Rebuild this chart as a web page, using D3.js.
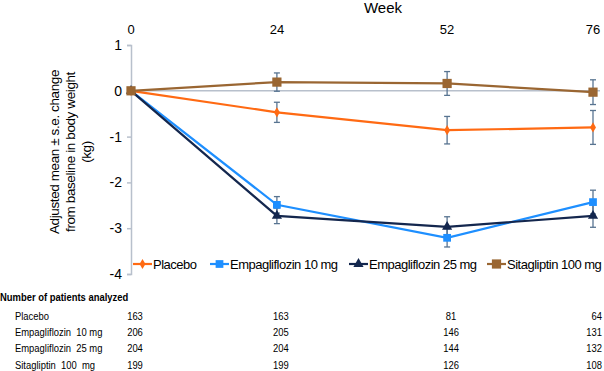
<!DOCTYPE html>
<html>
  <head>
    <meta charset="UTF-8" />
    <script src="https://cdnjs.cloudflare.com/ajax/libs/d3/7.8.5/d3.min.js"></script>
    <style>
      body { margin: 0; background: #fff; }
      text { font-family: "Liberation Sans", Arial, sans-serif; }
    </style>
  </head>
  <body>
    <svg id="chart" width="604" height="371"></svg>
    <script>
      const weeks = [0, 24, 52, 76];
      const yTicks = [1, 0, -1, -2, -3, -4];
      const seriesNames = ["Placebo", "Empagliflozin 10 mg", "Empagliflozin 25 mg", "Sitagliptin 100 mg"];
      const tableNames = ["Placebo", "Empagliflozin  10 mg", "Empagliflozin  25 mg", "Sitagliptin  100  mg"];
      const placebo = [0, -0.47, -0.86, -0.8];
      const placeboSe = [0, 0.22, 0.3, 0.37];
      const empa10 = [0, -2.49, -3.21, -2.43];
      const empa10Se = [0, 0.18, 0.2, 0.26];
      const empa25 = [0, -2.73, -2.97, -2.73];
      const empa25Se = [0, 0.17, 0.22, 0.25];
      const sita = [0, 0.19, 0.16, -0.03];
      const sitaSe = [0, 0.2, 0.26, 0.27];
      const patients = [
        [163, 163, 81, 64],
        [206, 205, 146, 131],
        [204, 204, 144, 132],
        [199, 199, 126, 108]
      ];

      const svg = d3.select("#chart");
      const x = d3.scaleLinear().domain([0, 76]).range([131, 593]);
      const y = d3.scaleLinear().domain([-4, 1]).range([274, 45]);

      const series = [
        { name: seriesNames[0], values: placebo, se: placeboSe, color: "#ff6a13", marker: "diamond", size: 30 },
        { name: seriesNames[1], values: empa10, se: empa10Se, color: "#1e8fff", marker: "square", size: 60 },
        { name: seriesNames[2], values: empa25, se: empa25Se, color: "#14274e", marker: "triangle", size: 45 },
        { name: seriesNames[3], values: sita, se: sitaSe, color: "#9a6632", marker: "square", size: 85 }
      ];
      const symbolType = {
        diamond: d3.symbolDiamond,
        square: d3.symbolSquare,
        triangle: d3.symbolTriangle
      };

      // axes
      svg.append("line")
        .attr("x1", x(0)).attr("x2", 600)
        .attr("y1", y(0)).attr("y2", y(0))
        .attr("stroke", "#b8c0cc").attr("stroke-width", 1.5);

      const yAxis = d3.axisLeft(y).tickValues(yTicks).tickSize(4).tickFormat(d3.format("d"));
      const yG = svg.append("g")
        .attr("transform", `translate(${x(0)},0)`)
        .call(yAxis);
      yG.select(".domain").attr("stroke", "#b8c0cc").attr("stroke-width", 1.5);
      yG.selectAll(".tick line").attr("stroke", "#b8c0cc").attr("stroke-width", 1.5);
      yG.selectAll(".tick text")
        .attr("x", -9)
        .style("font-size", "14px")
        .style("font-family", "Liberation Sans, Arial, sans-serif")
        .attr("fill", "#000")
        .text(d => (d < 0 ? "-" + Math.abs(d) : d));

      svg.selectAll("text.week")
        .data(weeks)
        .enter()
        .append("text")
        .attr("class", "week")
        .attr("x", d => x(d))
        .attr("y", 34)
        .attr("text-anchor", "middle")
        .style("font-size", "13px")
        .text(d => d);

      svg.append("text")
        .attr("x", 383).attr("y", 13)
        .attr("text-anchor", "middle")
        .style("font-size", "15px")
        .text("Week");

      const yTitle = svg.append("text")
        .attr("transform", "translate(71,152) rotate(-90)")
        .attr("text-anchor", "middle")
        .style("font-size", "13.5px")
        .style("letter-spacing", "-0.4px");
      ["Adjusted mean \u00b1 s.e. change", "from baseline in body weight", "(kg)"].forEach((t, i) => {
        yTitle.append("tspan")
          .attr("x", 0)
          .attr("y", -12 + i * 16)
          .text(t);
      });

      // error bars
      const errColor = "#587491";
      series.forEach(s => {
        const g = svg.append("g");
        const pts = weeks.map((w, i) => ({ w, v: s.values[i], se: s.se[i] })).filter(d => d.se > 0);
        g.selectAll("line.bar")
          .data(pts).enter().append("line")
          .attr("x1", d => x(d.w)).attr("x2", d => x(d.w))
          .attr("y1", d => y(d.v + d.se)).attr("y2", d => y(d.v - d.se))
          .attr("stroke", errColor).attr("stroke-width", 1.3);
        ["+", "-"].forEach(sign => {
          g.selectAll(null)
            .data(pts).enter().append("line")
            .attr("x1", d => x(d.w) - 3).attr("x2", d => Math.min(x(d.w) + 3, 600))
            .attr("y1", d => y(sign === "+" ? d.v + d.se : d.v - d.se))
            .attr("y2", d => y(sign === "+" ? d.v + d.se : d.v - d.se))
            .attr("stroke", errColor).attr("stroke-width", 1.3);
        });
      });

      // lines and markers
      const line = d3.line().x((d, i) => x(weeks[i])).y(d => y(d));
      series.forEach(s => {
        svg.append("path")
          .attr("d", line(s.values))
          .attr("fill", "none")
          .attr("stroke", s.color)
          .attr("stroke-width", 2.2);
        svg.selectAll(null)
          .data(s.values)
          .enter()
          .append("path")
          .attr("d", d3.symbol().type(symbolType[s.marker]).size(s.size))
          .attr("transform", (d, i) => `translate(${x(weeks[i])},${y(d)})`)
          .attr("fill", s.color);
      });

      // legend
      const legendX = [133, 210, 349, 487];
      series.forEach((s, i) => {
        const g = svg.append("g").attr("transform", `translate(${legendX[i]},264)`);
        g.append("line").attr("x1", 0).attr("x2", 19).attr("stroke", s.color).attr("stroke-width", 2.2);
        g.append("path")
          .attr("d", d3.symbol().type(symbolType[s.marker]).size(s.size))
          .attr("transform", "translate(9.5,0)")
          .attr("fill", s.color);
        g.append("text")
          .attr("x", 20).attr("y", 5)
          .style("font-size", "13px")
          .style("letter-spacing", "-0.5px")
          .text(s.name);
      });

      // patients table (condensed text)
      const sx = 0.82;
      function narrowText(tx, ty, str, anchor, bold) {
        svg.append("text")
          .attr("transform", `translate(${tx},${ty}) scale(${sx},1)`)
          .attr("text-anchor", anchor)
          .style("font-size", "11.5px")
          .style("font-weight", bold ? "bold" : "normal")
          .style("white-space", "pre")
          .text(str);
      }
      narrowText(0, 301, "Number of patients analyzed", "start", true);
      const rowY = [320, 336, 352, 369];
      tableNames.forEach((name, r) => {
        narrowText(15, rowY[r], name, "start", false);
        patients[r].forEach((n, i) => {
          if (i === 3) narrowText(602, rowY[r], String(n), "end", false);
          else narrowText(x(weeks[i]) + 4, rowY[r], String(n), "middle", false);
        });
      });
    </script>
  </body>
</html>
